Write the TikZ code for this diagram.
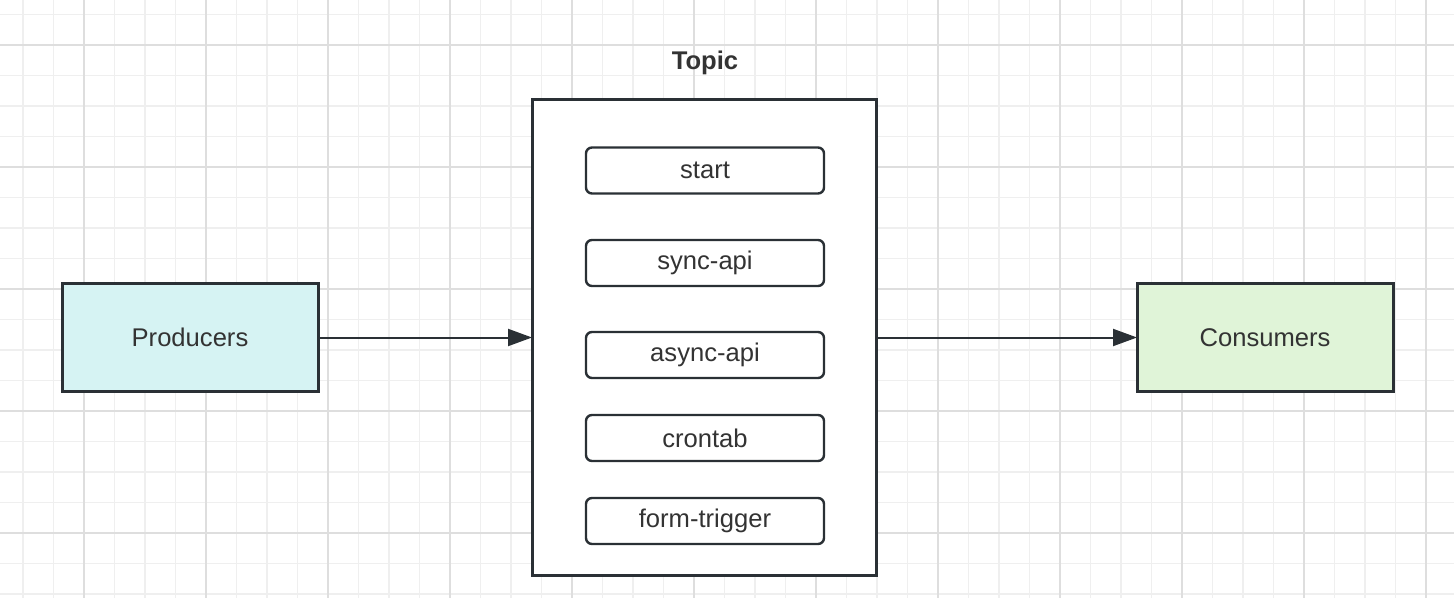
\documentclass[tikz,border=0pt]{standalone}
\usepackage{fontspec}
\setmainfont{Liberation Sans}
\usetikzlibrary{arrows.meta}
\definecolor{edgec}{HTML}{2A3035}
\definecolor{txtc}{HTML}{333333}
\definecolor{prodfill}{HTML}{D6F3F3}
\definecolor{consfill}{HTML}{E0F4D8}
\definecolor{gridminor}{HTML}{EFEFEF}
\definecolor{gridmajor}{HTML}{DEDEDE}
\begin{document}
\begin{tikzpicture}[x=0.5pt,y=-0.5pt,
  every node/.style={font=\fontsize{12.8}{15}\selectfont, text=txtc, inner sep=0pt, outer sep=0pt},
  bigbox/.style={draw=edgec, line width=1.5pt, minimum width=128pt, minimum height=53.5pt},
  topicbox/.style={draw=edgec, line width=1.5pt, fill=white, minimum width=172pt, minimum height=237.5pt},
  itembox/.style={draw=edgec, line width=1.2pt, rounded corners=3pt, fill=white, minimum width=119pt, minimum height=23pt},
  arr/.style={draw=edgec, line width=1pt, -{Triangle[length=12pt,width=8.5pt]}}
]
\useasboundingbox[fill=white] (0,0) rectangle (1454,598);
\begin{scope}
\clip (0,0) rectangle (1454,598);
\foreach \i in {0,...,46} \draw[gridminor, line width=0.9pt] ({23+30.5*\i},0) -- ({23+30.5*\i},598);
\foreach \i in {0,...,19} \draw[gridminor, line width=0.9pt] (0,{14.5+30.5*\i}) -- (1454,{14.5+30.5*\i});
\foreach \i in {0,...,11} \draw[gridmajor, line width=1pt] ({84+122*\i},0) -- ({84+122*\i},598);
\foreach \i in {0,...,4} \draw[gridmajor, line width=1pt] (0,{45+122*\i}) -- (1454,{45+122*\i});
\end{scope}

\node[bigbox, fill=prodfill] (prod) at (190,337.5) {Producers};
\node[bigbox, fill=consfill] (cons) at (1265,337.5) {Consumers};
\node[topicbox] (topic) at (704,337.5) {};
\node[font=\fontsize{12.8}{15}\selectfont\bfseries] (title) at (705,63) {Topic};

\node[itembox] (start) at (705,170.5) {start};
\node[itembox] (sync) at (705,263) {sync-api};
\node[itembox] (async) at (705,355) {async-api};
\node[itembox] (cron) at (705,438) {crontab};
\node[itembox] (form) at (705,521) {form-trigger};

\draw[arr] (prod.east) -- (topic.west);
\draw[arr] (topic.east) -- (cons.west);
\end{tikzpicture}
\end{document}
